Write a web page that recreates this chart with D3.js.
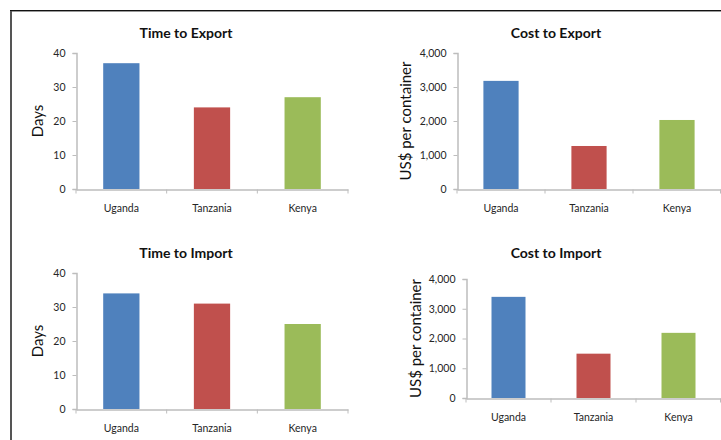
<!DOCTYPE html>
<html>
<head>
<meta charset="utf-8">
<script src="https://cdn.jsdelivr.net/npm/d3@7"></script>
<style>
  html, body { margin: 0; padding: 0; background: #fff; }
  svg { display: block; font-family: Lato, "Open Sans", sans-serif; }
</style>
</head>
<body>
<svg id="chart" width="721" height="440"></svg>
<script>
// Trade logistics indicators, East Africa
const countries = ["Uganda", "Tanzania", "Kenya"];
const barColors = ["#4F81BD", "#C0504D", "#9BBB59"];

const timeToExport = [37, 24, 27];
const costToExport = [3180, 1265, 2030];
const timeToImport = [34, 31, 25];
const costToImport = [3400, 1490, 2190];

const daysTicks = [0, 10, 20, 30, 40];
const costTicks = [0, 1000, 2000, 3000, 4000];

const titles = ["Time to Export", "Cost to Export", "Time to Import", "Cost to Import"];
const yLabels = ["Days", "US$ per container", "Days", "US$ per container"];

const svg = d3.select("#chart");

// outer frame (left and top edges visible)
svg.append("line").attr("x1", 11).attr("x2", 11).attr("y1", 10).attr("y2", 440)
  .attr("stroke", "#555").attr("stroke-width", 2);
svg.append("line").attr("x1", 10).attr("x2", 721).attr("y1", 10.5).attr("y2", 10.5)
  .attr("stroke", "#111").attr("stroke-width", 1);
svg.append("line").attr("x1", 12).attr("x2", 721).attr("y1", 11.5).attr("y2", 11.5)
  .attr("stroke", "#999").attr("stroke-width", 1);

const panels = [
  { values: timeToExport, ticks: daysTicks, fmt: d3.format("d"),
    x0: 76, x1: 348, yTop: 53, yBot: 189, titleX: 186, titleY: 32, labX: 37 },
  { values: costToExport, ticks: costTicks, fmt: d3.format(","),
    x0: 457, x1: 721, yTop: 53, yBot: 189, titleX: 556, titleY: 32, labX: 405 },
  { values: timeToImport, ticks: daysTicks, fmt: d3.format("d"),
    x0: 76, x1: 348, yTop: 273, yBot: 409, titleX: 186, titleY: 252, labX: 37 },
  { values: costToImport, ticks: costTicks, fmt: d3.format(","),
    x0: 466, x1: 721, yTop: 279, yBot: 398, titleX: 556, titleY: 252, labX: 415 }
];

const axisGrey = "#bdbdbd";
const textColor = "#262626";

panels.forEach((p, i) => {
  const g = svg.append("g");

  const x = d3.scaleBand().domain(countries).range([p.x0, p.x1])
    .paddingInner(0.6).paddingOuter(0.3);
  const y = d3.scaleLinear().domain([0, d3.max(p.ticks)]).range([p.yBot, p.yTop]);

  // bars
  g.selectAll("rect.bar").data(countries).join("rect")
    .attr("class", "bar")
    .attr("x", d => x(d))
    .attr("width", x.bandwidth())
    .attr("y", (d, k) => y(p.values[k]))
    .attr("height", (d, k) => y(0) - y(p.values[k]))
    .attr("fill", (d, k) => barColors[k]);

  // value axis
  const ya = g.append("g").attr("transform", `translate(${p.x0 + 0.5},0)`)
    .call(d3.axisLeft(y).tickValues(p.ticks).tickFormat(p.fmt).tickSize(4).tickPadding(7));
  ya.select(".domain").attr("stroke", axisGrey).attr("stroke-width", 1.5);
  ya.selectAll(".tick line").attr("stroke", axisGrey);
  ya.selectAll(".tick text").attr("fill", textColor).style("font-size", "10.5px")
    .style("font-family", "Lato, sans-serif");

  // category axis
  const xa = g.append("g").attr("transform", `translate(0,${p.yBot + 0.5})`)
    .call(d3.axisBottom(x).tickSize(0).tickPadding(15));
  xa.select(".domain").attr("stroke", axisGrey).attr("stroke-width", 1.5);
  xa.selectAll(".tick text").attr("fill", textColor).style("font-size", "10.5px")
    .style("font-family", "Lato, sans-serif");
  // category boundary ticks
  const bounds = d3.range(countries.length + 1).map(k => p.x0 + k * x.step());
  xa.selectAll("line.bound").data(bounds).join("line")
    .attr("class", "bound")
    .attr("x1", d => Math.min(d, 720.5)).attr("x2", d => Math.min(d, 720.5))
    .attr("y1", 0).attr("y2", 4)
    .attr("stroke", axisGrey);

  // title
  g.append("text").attr("x", p.titleX).attr("y", p.titleY)
    .attr("text-anchor", "middle").attr("dominant-baseline", "central")
    .style("font-size", "14px").style("font-weight", "bold").attr("fill", "#111")
    .text(titles[i]);

  // value axis title
  const cy = (p.yTop + p.yBot) / 2;
  g.append("text")
    .attr("transform", `translate(${p.labX},${cy}) rotate(-90)`)
    .attr("text-anchor", "middle").attr("dominant-baseline", "central")
    .style("font-size", "15px").attr("fill", "#111")
    .text(yLabels[i]);
});
</script>
</body>
</html>
